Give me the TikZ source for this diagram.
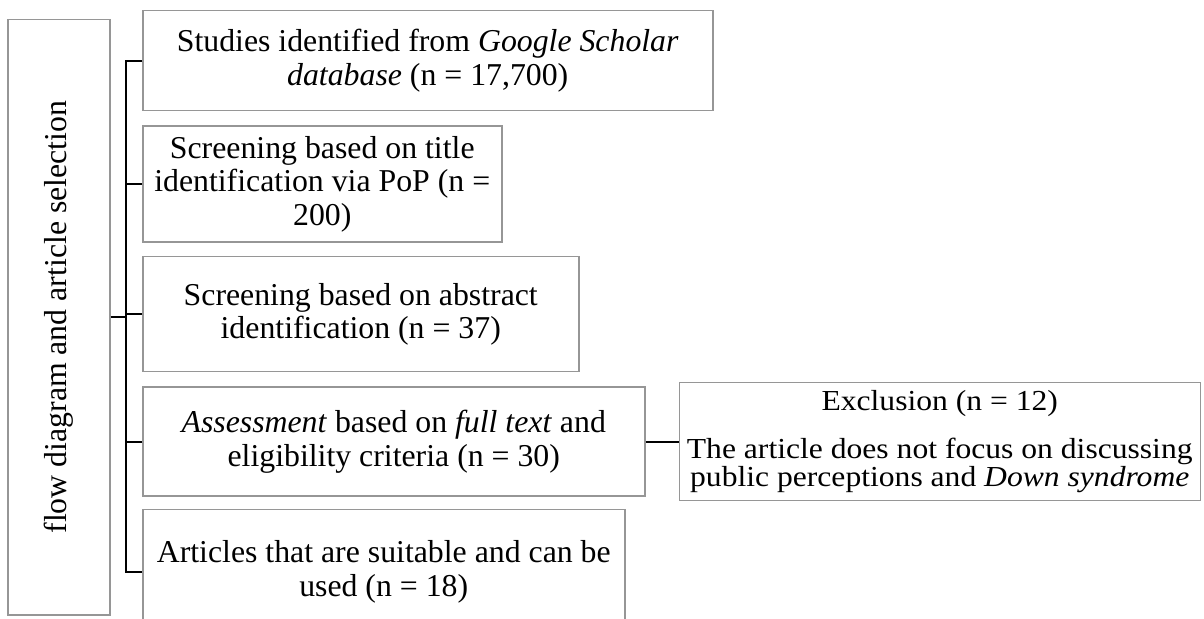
\documentclass[tikz,border=0pt]{standalone}
\usepackage{fontspec}
\setmainfont{Liberation Serif}
\newfontfamily\exclfont{Liberation Serif}[FakeStretch=1.09]
\usepackage{tikz}
\usetikzlibrary{positioning}
\definecolor{reviewBorder}{RGB}{150,150,150}
\definecolor{reviewLine}{RGB}{0,0,0}
\tikzset{
  stagebox/.style={rectangle, draw=reviewBorder, line width=0.75pt, align=center,
    inner sep=2pt, font=\fontsize{15.9pt}{16.8pt}\selectfont},
  sidebox/.style={stagebox, minimum width=51pt, minimum height=297.5pt},
  exclbox/.style={stagebox, inner sep=1pt,
    font={\exclfont\fontsize{14.5pt}{14pt}\selectfont}},
  bracketline/.style={draw=reviewLine, line width=1pt},
}

\begin{document}
\begin{tikzpicture}[x=0.5pt, y=-0.5pt]
  \useasboundingbox (0,0) rectangle (1204,619);
  \clip (0,0) rectangle (1204,619);

  \node[sidebox, anchor=north west] (side) at (7,19)
    {\rotatebox{90}{flow diagram and article selection}};

  \node[stagebox, minimum width=285pt, minimum height=50pt, anchor=north west] (ident) at (142,10)
    {Studies identified from \textit{Google Scholar}\\\textit{database} (n = 17,700)};
  \node[stagebox, minimum width=179.5pt, minimum height=58pt, below=7pt of ident.south west, anchor=north west] (title)
    {Screening based on title\\identification via PoP (n =\\200)};
  \node[stagebox, minimum width=218pt, minimum height=57.5pt, below=6.5pt of title.south west, anchor=north west] (abstract)
    {Screening based on abstract\\identification (n = 37)};
  \node[stagebox, minimum width=251pt, minimum height=54.5pt, below=7pt of abstract.south west, anchor=north west] (fulltext)
    {\textit{Assessment} based on \textit{full text} and\\eligibility criteria (n = 30)};
  \node[stagebox, minimum width=241pt, minimum height=62pt, below=6pt of fulltext.south west, anchor=north west] (usable)
    {Articles that are suitable and can be\\used (n = 18)};

  \node[exclbox, minimum width=260.5pt, minimum height=59pt, right=16.5pt of fulltext] (excl)
    {Exclusion (n = 12)\\[10pt]The article does not focus on discussing\\public perceptions and \textit{Down syndrome}};

  \coordinate[left=8pt of ident.west] (spine);

  \draw[bracketline] (side.east) -- (side.east -| spine);
  \draw[bracketline] (ident.west) -- (spine) |- (usable.west);
  \draw[bracketline] (title.west) -- (title.west -| spine);
  \draw[bracketline] (abstract.west) -- (abstract.west -| spine);
  \draw[bracketline] (fulltext.west) -- (fulltext.west -| spine);
  \draw[bracketline] (fulltext.east) -- (excl.west);
\end{tikzpicture}
\end{document}
